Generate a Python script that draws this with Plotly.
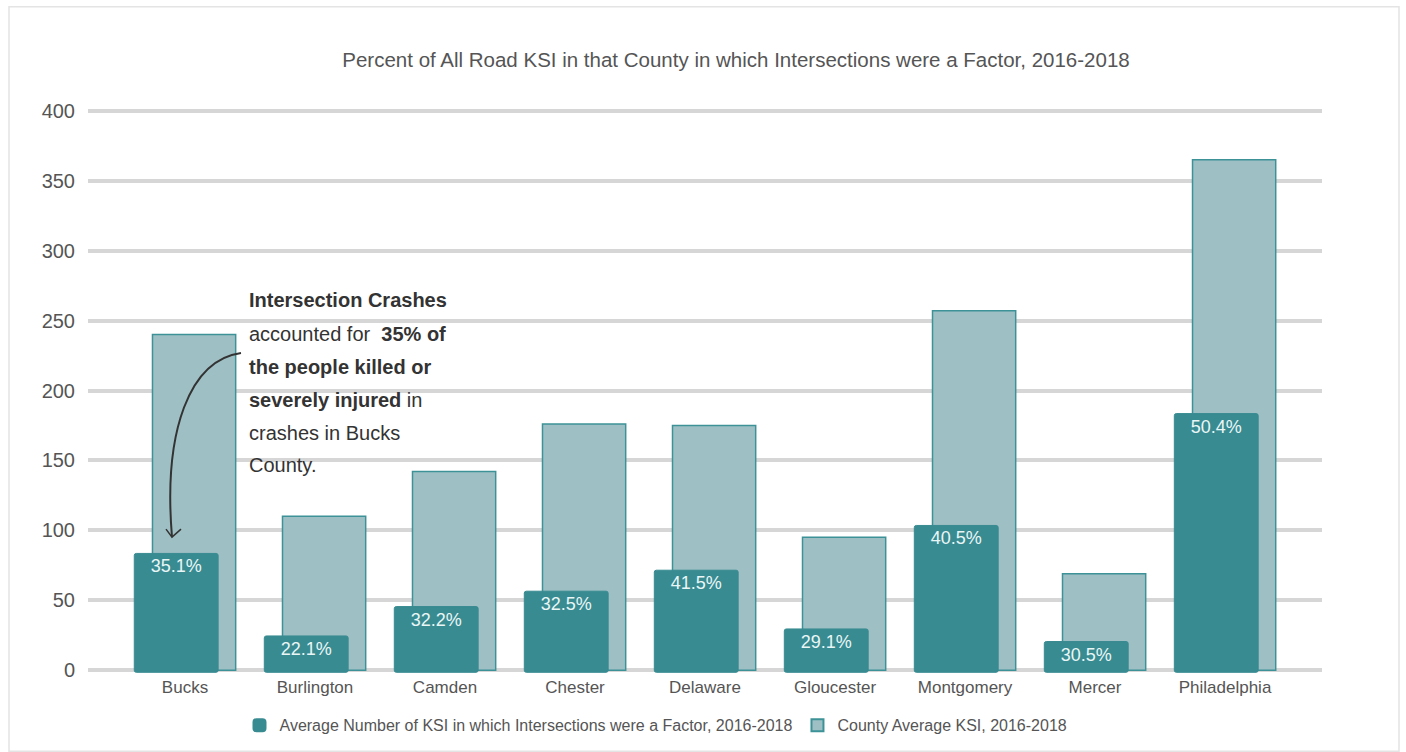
import plotly.graph_objects as go

counties = ["Bucks", "Burlington", "Camden", "Chester", "Delaware",
            "Gloucester", "Montgomery", "Mercer", "Philadelphia"]
county_avg_ksi = [240, 110, 142, 176, 175, 95, 257, 69, 365]
intersection_ksi = [85, 26, 47, 58, 73, 31, 105, 22, 185]
pct_labels = ["35.1%", "22.1%", "32.2%", "32.5%", "41.5%",
              "29.1%", "40.5%", "30.5%", "50.4%"]
y_ticks = [0, 50, 100, 150, 200, 250, 300, 350, 400]

FONT = "Liberation Sans, Arial, sans-serif"
DARK = "#388b91"
LIGHT = "#9ebfc4"
EDGE = "#3d9297"

W, H = 1406, 752
# pixel positions of the y-axis values 0 and 400 in the reference
Y0_PX, Y400_PX = 670, 111
YMIN, YMAX = -2, 402
k = (Y0_PX - Y400_PX) / 400.0
T = Y400_PX - (YMAX - 400) * k
B = Y0_PX + (0 - YMIN) * k
L, R = 88, 1322  # plot area in pixels


def px(x):
    return (x - L) / (R - L)


def py(y):
    return (B - y) / (B - T)


fig = go.Figure()
fig.add_trace(go.Bar(
    x=counties, y=county_avg_ksi, name="County Average KSI, 2016-2018",
    marker=dict(color=LIGHT, line=dict(color=EDGE, width=1.5)),
    width=0.64, offset=-0.25, legendrank=2, hoverinfo="x+y",
))
fig.add_trace(go.Bar(
    x=counties, y=intersection_ksi, base=-1.5,
    name="Average Number of KSI in which Intersections were a Factor, 2016-2018",
    marker=dict(color=DARK, line=dict(color=DARK, width=1), cornerradius=2),
    width=0.645, offset=-0.39, legendrank=1,
    text=pct_labels, textposition="inside", insidetextanchor="end",
    textangle=0, constraintext="none",
    textfont=dict(color="#eaf6f6", size=18, family=FONT),
))

# curved arrow for the annotation
path = (f"M {px(241)},{py(353)} C {px(190)},{py(360)} {px(163)},{py(430)} {px(172)},{py(537)}")
head = f"M {px(166)},{py(529)} L {px(172)},{py(537)} L {px(181)},{py(529)}"
shapes = [
    dict(type="path", path=path, xref="paper", yref="paper",
         line=dict(color="#333333", width=2)),
    dict(type="path", path=head, xref="paper", yref="paper",
         line=dict(color="#333333", width=1.5)),
    dict(type="rect", xref="paper", yref="paper",
         x0=px(9), x1=px(1399), y0=py(751), y1=py(7),
         line=dict(color="#e4e4e4", width=1.5), layer="below"),
]

note_lines = ["<b>Intersection Crashes</b>",
              "accounted for  <b>35% of</b>",
              "<b>the people killed or</b>",
              "<b>severely injured</b> in",
              "crashes in Bucks",
              "County."]
note_y = [300, 334, 367, 400, 433, 465]
annotations = [dict(text=t, xref="paper", yref="paper", x=px(247), y=py(yy),
                    xanchor="left", yanchor="middle", align="left", showarrow=False,
                    font=dict(size=20, color="#333333", family=FONT))
               for t, yy in zip(note_lines, note_y)]

fig.update_layout(
    width=W, height=H,
    margin=dict(l=L, r=W - R, t=T, b=H - B, autoexpand=False),
    paper_bgcolor="white", plot_bgcolor="white",
    barmode="overlay",
    font=dict(family=FONT, color="#555555"),
    title=dict(text="Percent of All Road KSI in that County in which Intersections were a Factor, 2016-2018",
               x=px(736), xref="paper", xanchor="center", y=1 - 60 / H, yanchor="middle",
               font=dict(size=20.5, color="#555555", family=FONT)),
    xaxis=dict(range=[-0.746, 8.746], showgrid=False, showline=False, ticks="",
               ticklabelstandoff=2,
               tickfont=dict(size=17, color="#555555", family=FONT)),
    yaxis=dict(range=[YMIN, YMAX], tickvals=y_ticks, showgrid=True,
               gridcolor="#d6d6d6", gridwidth=4, zeroline=False, showline=False,
               ticks="", ticklabelstandoff=12,
               tickfont=dict(size=20, color="#555555", family=FONT)),
    legend=dict(orientation="h", x=px(656), xanchor="center", y=py(725), yanchor="middle",
                font=dict(size=16, color="#555555", family=FONT),
                itemsizing="constant", traceorder="normal", itemwidth=30),
    shapes=shapes,
    annotations=annotations,
)

fig.write_html("out.html", config={"displayModeBar": False},
               post_script="document.body.style.margin='0';")
